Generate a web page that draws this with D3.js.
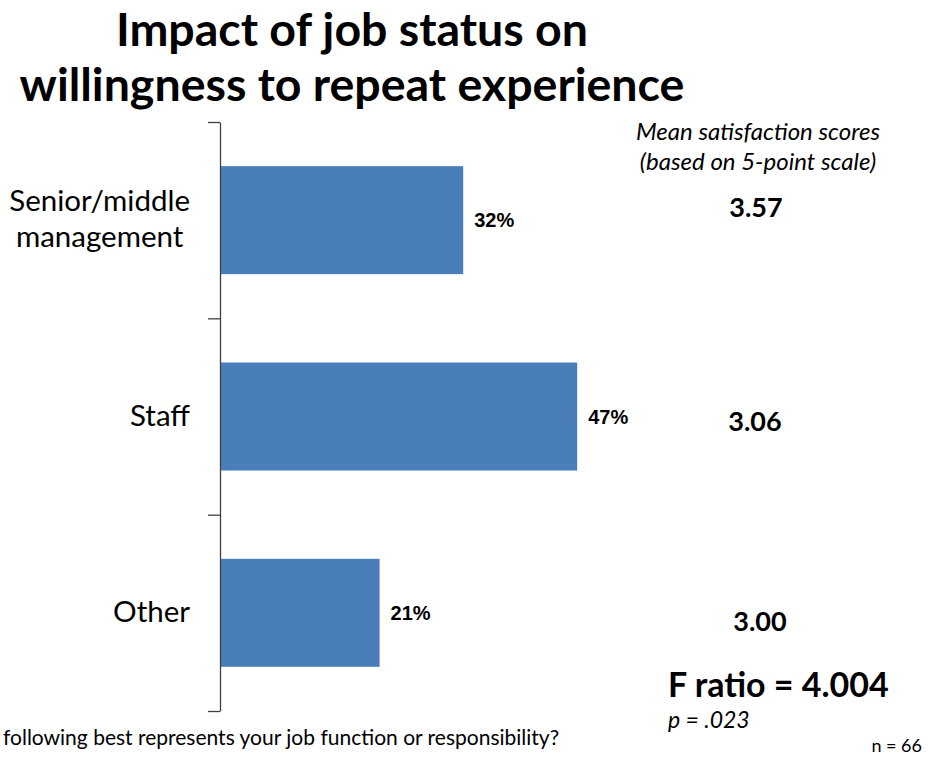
<!DOCTYPE html>
<html>
<head>
<meta charset="utf-8">
<script src="https://cdn.jsdelivr.net/npm/d3@7"></script>
<style>
  html, body { margin: 0; padding: 0; background: #fff; }
  svg { display: block; }
  .calibri { font-family: Lato, "Open Sans", sans-serif; }
  .arial { font-family: "Liberation Sans", Arial, sans-serif; }
</style>
</head>
<body>
<svg id="chart" width="928" height="758"></svg>
<script>
// Job status categories, share willing to repeat (%), and mean satisfaction scores
const categories = ["Senior/middle management", "Staff", "Other"];
const categoryLines = [["Senior/middle", "management"], ["Staff"], ["Other"]];
const willingPct = [32, 47, 21];
const meanScores = ["3.57", "3.06", "3.00"];

const titleLines = ["Impact of job status on", "willingness to repeat experience"];
const scoreHeader = ["Mean satisfaction scores", "(based on 5-point scale)"];
const fRatioText = "F ratio = 4.004";
const pValueText = "p = .023";
const sampleText = "n = 66";
const questionText = "following best represents your job function or responsibility?";

const svg = d3.select("#chart");

const axisX = 220, plotTop = 122, plotBottom = 711;
const x = d3.scaleLinear().domain([0, 100]).range([axisX, axisX + 760]);
const y = d3.scaleBand().domain(categories).range([plotTop, plotBottom])
  .paddingInner(0.45).paddingOuter(0.225);
const yTicks = d3.scaleLinear().domain([0, categories.length]).range([plotTop, plotBottom]);

// Title
svg.append("g").selectAll("text").data(titleLines).join("text")
  .attr("class", "calibri")
  .attr("x", 352)
  .attr("y", (d, i) => 46 + i * 55)
  .attr("text-anchor", "middle")
  .attr("font-size", 46.5)
  .attr("font-weight", 700)
  .attr("fill", "#000")
  .text(d => d);

// Bars
svg.append("g").selectAll("rect").data(categories).join("rect")
  .attr("x", x(0))
  .attr("y", d => y(d))
  .attr("width", (d, i) => x(willingPct[i]) - x(0))
  .attr("height", y.bandwidth())
  .attr("fill", "#4a7ebb");

// Axis with tick marks between categories
const axis = svg.append("g")
  .attr("transform", `translate(${axisX},0)`)
  .call(d3.axisLeft(yTicks).tickValues(d3.range(categories.length + 1))
    .tickFormat("").tickSize(12).tickSizeOuter(0));
axis.selectAll("path, line").attr("stroke", "#404040").attr("stroke-width", 1.3);

// Value labels
svg.append("g").selectAll("text").data(categories).join("text")
  .attr("class", "arial")
  .attr("x", (d, i) => x(willingPct[i]) + 11)
  .attr("y", d => y(d) + y.bandwidth() / 2 + 7)
  .attr("font-size", 20)
  .attr("font-weight", 700)
  .attr("fill", "#000")
  .text((d, i) => willingPct[i] + "%");

// Category labels (lines centred together, block right-aligned)
const catG = svg.append("g");
categories.forEach((c, i) => {
  const lines = categoryLines[i];
  const lh = 36;
  const cy = y(c) + y.bandwidth() / 2;
  const g = catG.append("g");
  const t = g.selectAll("text").data(lines).join("text")
    .attr("class", "calibri")
    .attr("font-size", 29.5)
    .attr("fill", "#000")
    .attr("text-anchor", "middle")
    .attr("y", (d, j) => cy + 9 + (j - (lines.length - 1) / 2) * lh)
    .text(d => d);
  const maxW = d3.max(t.nodes(), n => n.getComputedTextLength());
  t.attr("x", 190 - maxW / 2);
});

// Mean satisfaction header and scores
svg.append("g").selectAll("text").data(scoreHeader).join("text")
  .attr("class", "calibri")
  .attr("x", 758)
  .attr("y", (d, i) => 140 + i * 30)
  .attr("text-anchor", "middle")
  .attr("font-size", 24)
  .attr("font-style", "italic")
  .attr("fill", "#000")
  .text(d => d);

// Score text boxes sit beside each bar
const scoreBoxes = [{ x: 756, y: 217 }, { x: 755, y: 431 }, { x: 760, y: 631 }];
svg.append("g").selectAll("text").data(meanScores).join("text")
  .attr("class", "calibri")
  .attr("x", (d, i) => scoreBoxes[i].x)
  .attr("y", (d, i) => scoreBoxes[i].y)
  .attr("text-anchor", "middle")
  .attr("font-size", 27)
  .attr("font-weight", 700)
  .attr("fill", "#000")
  .text(d => d);

// Statistics
svg.append("text").attr("class", "calibri")
  .attr("x", 668).attr("y", 697)
  .attr("font-size", 34).attr("font-weight", 700)
  .text(fRatioText);
svg.append("text").attr("class", "calibri")
  .attr("x", 668).attr("y", 728)
  .attr("font-size", 23).attr("font-style", "italic")
  .text(pValueText);
svg.append("text").attr("class", "calibri")
  .attr("x", 922).attr("y", 752)
  .attr("text-anchor", "end")
  .attr("font-size", 18)
  .text(sampleText);

// Survey question
svg.append("text").attr("class", "calibri")
  .attr("x", 3).attr("y", 745)
  .attr("font-size", 21)
  .text(questionText);
</script>
</body>
</html>
